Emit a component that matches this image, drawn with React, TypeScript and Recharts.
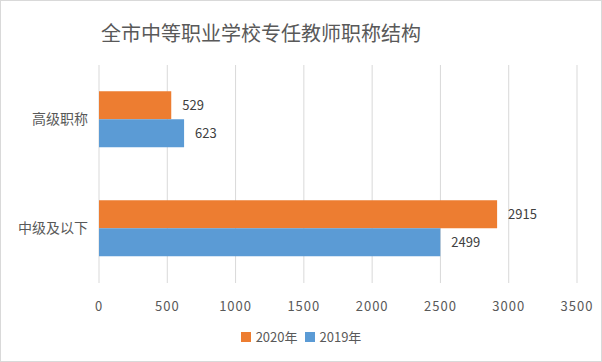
import { Bar, BarChart, CartesianGrid, LabelList, Legend, XAxis, YAxis } from "recharts";

const categories = ["高级职称", "中级及以下"];
const values2020 = [529, 2915];
const values2019 = [623, 2499];
const xTicks = [0, 500, 1000, 1500, 2000, 2500, 3000, 3500];

const font = "'Noto Sans CJK SC', 'Noto Sans', sans-serif";
const textColor = "#595959";

const data = categories.map((name, i) => ({
  name,
  y2020: values2020[i],
  y2019: values2019[i],
}));

const LegendBox = () => (
  <div style={{ display: "flex", justifyContent: "center", alignItems: "center", fontFamily: font, fontSize: 13, color: textColor }}>
    <span style={{ width: 10, height: 10, background: "#ED7D31", display: "inline-block", marginRight: 5 }} />
    <span style={{ marginRight: 7 }}>2020年</span>
    <span style={{ width: 10, height: 10, background: "#5B9BD5", display: "inline-block", marginRight: 5 }} />
    <span>2019年</span>
  </div>
);

const App = () => {
  return (
    <div
      style={{
        position: "absolute",
        left: 0,
        top: 0,
        width: 600,
        height: 360,
        border: "1px solid #D9D9D9",
        background: "#fff",
        fontFamily: font,
      }}
    >
      <div
        style={{
          position: "absolute",
          top: 18,
          left: 0,
          width: 520,
          textAlign: "center",
          fontSize: 20,
          color: textColor,
          lineHeight: "28px",
        }}
      >
        全市中等职业学校专任教师职称结构
      </div>
      <BarChart
        width={600}
        height={360}
        layout="vertical"
        data={data}
        margin={{ top: 64, right: 24, left: 0, bottom: 48 }}
        barCategoryGap="24%"
        barGap={0}
      >
        <CartesianGrid horizontal={false} stroke="#D9D9D9" />
        <XAxis
          type="number"
          domain={[0, 3500]}
          ticks={xTicks}
          axisLine={false}
          tickLine={false}
          tickSize={0}
          tickMargin={19}
          height={30}
          interval={0}
          tick={{ fill: textColor, fontSize: 13, fontFamily: font, letterSpacing: 1 }}
        />
        <YAxis
          type="category"
          dataKey="name"
          width={98}
          axisLine={false}
          tickLine={false}
          tickSize={0}
          tickMargin={11}
          tick={{ fill: textColor, fontSize: 14, fontFamily: font }}
        />
        <Legend
          layout="vertical"
          align="center"
          verticalAlign="middle"
          content={<LegendBox />}
          wrapperStyle={{ position: "absolute", top: 326, left: 0, width: 600 }}
        />
        <Bar dataKey="y2020" name="2020年" fill="#ED7D31" isAnimationActive={false}>
          <LabelList dataKey="y2020" position="right" offset={11} fill="#404040" fontSize={13} fontFamily={font} />
        </Bar>
        <Bar dataKey="y2019" name="2019年" fill="#5B9BD5" isAnimationActive={false}>
          <LabelList dataKey="y2019" position="right" offset={11} fill="#404040" fontSize={13} fontFamily={font} />
        </Bar>
      </BarChart>
    </div>
  );
};

export default App;
